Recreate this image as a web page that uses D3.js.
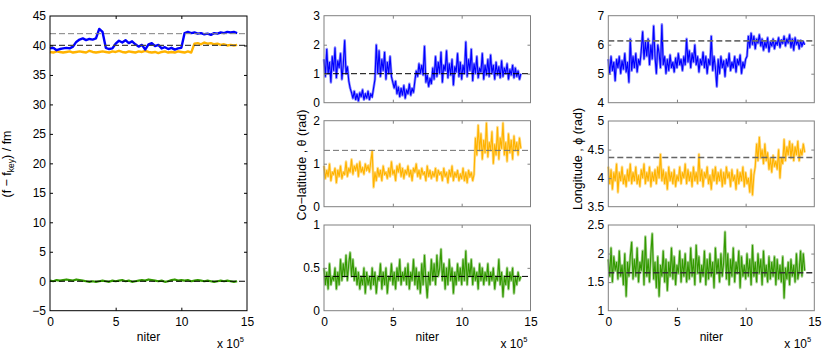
<!DOCTYPE html>
<html>
<head>
<meta charset="utf-8">
<script src="https://cdn.jsdelivr.net/npm/d3@7"></script>
<style>
body { margin: 0; background: #fff; }
text { font-family: "Liberation Sans", Arial, sans-serif; font-size: 12px; fill: #000; }
text.ylab { font-size: 12.5px; }
</style>
</head>
<body>
<div id="chart"></div>
<script>
var w = 830, h = 357; // size of the picture

// stored samples: one every stepF (left panel) / stepA (angle panels) iterations
var stepF = 25000;
var stepA = 10000;

var xTicks = [0, 5e5, 10e5, 15e5];
var xTickLabels = ["0", "5", "10", "15"];

// (f - f_key) / fm
var fBlue = [39.5,39.6,39.2,39.4,39.5,39.6,39.5,39.8,40.6,41.0,41.2,40.9,41.1,41.0,41.2,42.8,
  42.3,39.6,39.4,39.5,40.3,40.8,40.5,40.9,40.4,40.7,40.2,39.8,40.1,39.3,40.2,40.4,
  39.9,40.1,39.5,39.7,39.4,39.6,39.3,39.5,39.6,42.1,42.3,42.1,42.2,42.0,42.1,41.9,
  42.0,41.8,42.1,42.0,42.2,42.1,42.3,42.2,42.3,42.1];
var fOrange = [38.9,38.8,39.0,38.9,38.8,38.9,39.0,38.8,38.9,39.0,38.9,38.8,39.1,38.9,38.8,38.9,
  39.0,38.9,38.8,39.0,38.9,39.1,38.9,38.8,39.0,38.9,38.8,39.0,38.9,39.1,38.9,38.8,
  38.9,38.7,38.9,39.0,38.8,38.9,38.8,39.0,38.9,38.8,39.0,38.8,40.3,40.4,40.2,40.5,
  40.3,40.4,40.2,40.3,40.1,40.2,40.0,40.1,40.0,40.1];
var fGreen = [0.1,0.0,0.2,0.1,0.2,0.3,0.2,0.1,0.3,0.2, 0.1,0.0,-0.1,0.0,-0.1,0.0,0.1,0.0,-0.1,0.1,
  0.0,0.1,0.2,0.0,0.1,-0.1,0.0,0.1,0.2,0.1, 0.3,0.2,0.1,0.0,0.1,-0.1,0.0,0.2,0.3,0.1,
  0.2,0.1,0.2,0.0,0.1,0.2,0.1,0.0,0.1,0.0, -0.1,0.0,0.1,0.0,0.1,0.0,-0.1,0.0];
var fRef = [42, 40, 0];

// co-latitude theta (rad)
var thetaBlue = [1.5,0.9,1.85,1.0,1.4,0.7,1.6,1.1,1.9,0.85,1.45,1.2,1.7,0.8,1.3,
  2.15,1.0,1.25,0.75,0.5,
  0.35,0.15,0.4,0.1,0.3,0.05,0.35,0.2,0.45,0.1,0.3,0.15,0.4,0.1,0.3,0.2,0.5,
  0.8,
  2.0,1.0,1.8,0.9,1.5,1.1,1.75,0.8,1.4,1.0,1.6,0.9,
  0.7,0.5,0.75,0.3,0.55,0.2,0.5,0.25,0.6,0.15,0.45,0.3,0.65,0.25,0.5,0.35,0.75,
  1.1,0.9,1.35,1.0,1.3,0.95,
  1.95,
  0.7,0.95,0.55,0.85,0.65,
  1.2,0.8,1.6,0.9,1.4,1.0,1.75,0.7,1.3,1.1,1.8,0.85,1.35,0.95,1.5,0.6,1.25,1.05,1.7,0.9,
  1.4,0.8,1.3,1.0,2.1,0.9,1.5,1.1,1.85,0.75,1.35,1.0,1.6,0.85,1.2,1.05,1.7,0.8,1.3,0.95,
  1.5,0.9,1.65,1.0,1.3,0.8,1.4,0.95,1.25,0.85,1.45,0.9,1.2,1.0,1.35,0.8,1.15,0.95,1.3,0.85,
  1.2,0.9,1.1,0.8,1.0];
var thetaOrange = [0.95,0.65,0.85,0.7,1.0,0.6,0.8,0.75,0.9,0.55,0.85,0.7,0.95,0.65,0.8,0.75,1.05,0.7,0.9,0.8,
  1.1,0.75,0.95,0.85,1.0,0.7,1.05,0.8,0.9,0.75,1.0,0.85,0.95,0.8,1.05,1.3,0.45,0.8,0.6,0.9,
  0.7,0.85,0.6,0.95,0.75,0.8,0.65,0.9,0.7,1.05,0.75,0.85,0.6,0.95,0.8,1.0,0.7,0.9,0.65,0.85,
  0.75,0.95,0.7,0.85,0.6,0.9,0.8,1.0,0.7,0.85,0.65,0.9,0.75,0.8,0.6,0.95,0.7,0.85,0.65,0.8,
  0.7,0.9,0.6,0.85,0.75,0.8,0.6,0.9,0.7,0.8,0.55,0.85,0.7,0.95,0.6,0.8,0.7,0.85,0.6,0.75,
  0.65,0.9,0.6,0.8,0.55,0.85,0.7,0.8,0.6,0.75,
  1.6,1.2,1.9,1.3,1.7,1.1,1.55,1.25,1.95,1.15,1.5,1.3,1.75,1.0,1.45,1.2,1.85,1.1,1.6,1.35,
  1.95,1.2,1.5,1.05,1.7,1.25,1.55,1.1,1.65,1.3,1.5,1.2,1.6,1.35];
var thetaGreen = [0.5,0.3,0.45,0.25,0.55,0.3,0.4,0.35,0.5,0.25,0.45,0.3,0.6,0.35,0.55,0.4,0.65,0.35,0.55,0.68,
  0.4,0.6,0.35,0.5,0.3,0.45,0.25,0.4,0.3,0.5,0.2,0.45,0.3,0.4,0.25,0.5,0.3,0.45,0.2,0.4,
  0.35,0.55,0.25,0.45,0.3,0.5,0.2,0.4,0.35,0.55,0.3,0.45,0.25,0.5,0.35,0.6,0.3,0.45,0.35,0.5,
  0.3,0.55,0.25,0.45,0.35,0.6,0.3,0.5,0.25,0.45,0.2,0.55,0.3,0.65,0.35,0.15,0.45,0.3,0.6,0.35,
  0.55,0.3,0.65,0.4,0.5,0.72,0.35,0.55,0.25,0.5,0.3,0.6,0.35,0.5,0.2,0.45,0.3,0.55,0.35,0.5,
  0.3,0.6,0.35,0.7,0.3,0.55,0.4,0.6,0.3,0.5,0.35,0.45,0.25,0.55,0.35,0.5,0.3,0.45,0.35,0.55,
  0.3,0.45,0.35,0.5,0.25,0.4,0.35,0.6,0.3,0.45,0.16,0.4,0.3,0.5,0.25,0.45,0.35,0.5,0.2,0.4,
  0.3,0.45,0.35,0.4];
var thetaRef = [1.0, 1.31, 0.4];

// longitude phi (rad)
var phiBlue = [5.5,5.0,5.6,5.1,5.4,4.75,5.5,5.2,5.6,5.0,5.45,5.15,5.7,5.05,5.4,4.7,6.2,5.1,5.6,5.2,
  5.7,5.05,5.5,5.3,5.8,6.45,5.5,6.1,5.6,6.2,5.3,6.0,5.5,6.65,5.6,5.0,6.0,5.7,5.2,6.7,
  5.3,5.6,5.0,5.5,5.1,5.65,5.2,5.4,5.05,5.55,5.2,5.7,5.3,5.5,5.1,5.6,5.3,6.2,5.4,5.8,
  5.2,5.7,5.4,6.0,5.3,5.6,5.05,5.5,5.3,5.75,5.2,5.6,5.0,5.5,5.3,6.3,5.1,5.6,5.2,4.55,
  5.5,5.0,5.6,5.2,5.45,4.9,5.5,5.25,5.7,5.1,5.4,5.2,5.6,5.05,5.5,5.3,5.65,5.0,5.4,5.2,
  5.5,5.6,6.3,5.9,6.4,6.0,6.3,5.85,6.2,6.05,6.35,5.95,6.2,5.8,6.1,5.9,6.25,5.75,6.1,5.95,
  6.2,5.85,6.1,6.0,6.25,5.9,6.15,6.05,6.3,5.95,6.2,6.05,6.35,5.9,6.2,5.8,6.25,6.0,6.15,5.85,
  6.15,5.95,6.1,6.0];
var phiOrange = [4.2,3.9,4.15,3.8,4.1,3.95,4.25,3.75,4.1,3.95,4.2,3.9,4.05,3.85,4.15,3.95,4.25,3.9,4.1,3.95,
  4.2,3.9,4.05,3.85,4.15,4.0,4.25,3.9,4.1,3.95,4.2,3.85,4.1,3.95,4.15,3.9,4.2,4.0,4.42,3.95,
  4.15,3.9,4.1,3.8,4.2,3.95,4.1,3.9,4.15,3.85,4.05,3.95,4.2,3.9,4.1,4.0,4.25,3.9,4.15,3.95,
  4.1,3.85,4.2,3.95,4.1,3.9,4.42,3.95,4.15,3.85,4.1,4.0,4.2,3.9,4.05,3.8,4.15,3.95,4.2,3.9,
  4.1,3.95,4.15,3.85,4.1,3.9,4.2,4.0,4.1,3.85,4.15,3.95,4.05,3.8,4.15,3.9,4.1,3.95,4.2,3.85,
  4.1,3.9,4.0,3.75,4.15,3.7,4.05,4.2,
  4.6,4.3,4.72,4.35,4.5,4.25,4.6,4.3,4.45,4.15,4.35,4.1,4.4,4.2,4.3,4.15,4.5,4.0,4.35,4.25,
  4.68,4.3,4.55,4.4,4.65,4.35,4.6,4.3,4.55,4.4,4.65,4.3,4.5,4.4,4.6,4.45];
var phiGreen = [1.9,1.6,2.1,1.5,1.95,1.7,1.85,1.55,2.05,1.6,1.8,1.45,2.0,1.25,1.85,1.6,1.95,2.2,1.55,1.9,
  1.6,2.1,1.5,1.85,1.7,2.05,1.45,2.3,1.6,1.9,1.5,2.0,2.35,1.55,1.85,1.4,1.95,1.25,1.8,1.6,
  2.05,1.5,1.9,1.35,1.85,1.6,2.1,1.55,1.95,1.45,1.8,1.65,2.05,1.5,1.9,1.6,2.0,1.5,1.85,1.55,
  2.1,1.6,1.9,1.45,2.15,1.65,1.95,1.5,1.8,1.6,2.05,1.45,1.9,1.55,2.0,1.6,1.85,1.4,2.1,1.65,
  1.9,1.5,2.0,1.6,1.85,2.38,1.55,2.0,1.45,1.9,1.6,2.1,1.5,1.85,1.65,2.05,1.4,1.95,1.6,1.8,
  1.55,2.0,1.6,1.9,1.45,2.15,1.6,1.85,1.5,2.0,1.65,1.9,1.45,2.05,1.6,1.8,1.5,1.95,1.55,1.85,
  1.6,1.95,1.45,1.9,1.55,1.8,1.5,1.95,1.22,1.75,1.55,1.85,1.45,1.9,1.6,1.8,1.5,2.0,1.55,1.7,
  2.05,1.6,2.0,1.7];
var phiRef = [6.13, 4.36, 1.665];

var blue = "#0000ff", orange = "#ffb300", green = "#339900";

var svg = d3.select("#chart")
    .append("svg")
    .attr("width", w)
    .attr("height", h);

// panel layout (pixel boxes), data hooked in from the arrays above
var panels = [
  {x0: 50, x1: 247, y0: 16, y1: 310.7, domain: [-5, 45], ticks: d3.range(-5, 46, 5), box: "#000", bottom: true,
   series: [{v: fOrange, step: stepF, c: orange, sw: 2.4},
            {v: fBlue, step: stepF, c: blue, sw: 2.4},
            {v: fGreen, step: stepF, c: green, sw: 2.2}],
   refs: [{y: fRef[0], c: "#808080", sw: 1}, {y: fRef[1], c: "#444", sw: 1.3}, {y: fRef[2], c: "#000", sw: 1.2}]},

  {x0: 324, x1: 530.5, y0: 15.7, y1: 102.7, domain: [0, 3], ticks: [0, 1, 2, 3], box: "#808080",
   series: [{v: thetaBlue, step: stepA, c: blue, thin: true}], refs: [{y: thetaRef[0], c: "#000", sw: 1}]},
  {x0: 324, x1: 530.5, y0: 120.7, y1: 206.7, domain: [0, 2], ticks: [0, 1, 2], box: "#808080",
   series: [{v: thetaOrange, step: stepA, c: orange, thin: true}], refs: [{y: thetaRef[1], c: "#707070", sw: 1}]},
  {x0: 324, x1: 530.5, y0: 225, y1: 310.7, domain: [0, 1], ticks: [0, 0.5, 1], box: "#808080", bottom: true,
   series: [{v: thetaGreen, step: stepA, c: green, thin: true}], refs: [{y: thetaRef[2], c: "#000", sw: 1}]},

  {x0: 608.3, x1: 814.3, y0: 15.7, y1: 102.7, domain: [4, 7], ticks: [4, 5, 6, 7], box: "#808080",
   series: [{v: phiBlue, step: stepA, c: blue, thin: true}], refs: [{y: phiRef[0], c: "#6e6e6e", sw: 1.8}]},
  {x0: 608.3, x1: 814.3, y0: 121, y1: 206.7, domain: [3.5, 5], ticks: [3.5, 4, 4.5, 5], box: "#808080",
   series: [{v: phiOrange, step: stepA, c: orange, thin: true}], refs: [{y: phiRef[1], c: "#666", sw: 1.6}]},
  {x0: 608.3, x1: 814.3, y0: 225, y1: 310.7, domain: [1, 2.5], ticks: [1, 1.5, 2, 2.5], box: "#808080", bottom: true,
   series: [{v: phiGreen, step: stepA, c: green, thin: true}], refs: [{y: phiRef[2], c: "#333", sw: 1.6}]}
];

panels.forEach(drawPanel);

function styleAxis(g, color){
  g.attr("font-size", null).attr("font-family", null);
  g.select(".domain").remove();
  g.selectAll(".tick line").attr("stroke", color);
}

function drawPanel(p){
  var x = d3.scaleLinear().domain([0, 15e5]).range([p.x0, p.x1]);
  var y = d3.scaleLinear().domain(p.domain).range([p.y1, p.y0]);
  var g = svg.append("g");

  p.series.forEach(function(s){
    var line = d3.line()
        .x(function(d, i) { return x(i * s.step); })
        .y(function(d) { return y(d); });
    if (s.thin) {
      // light halo, then the trace itself
      g.append("path").datum(s.v).attr("d", line)
        .attr("fill", "none").attr("stroke", s.c).attr("stroke-opacity", 0.45)
        .attr("stroke-width", 2.6).attr("stroke-linejoin", "round");
      g.append("path").datum(s.v).attr("d", line)
        .attr("fill", "none").attr("stroke", s.c).attr("stroke-width", 1.1);
    } else {
      g.append("path").datum(s.v).attr("d", line)
        .attr("fill", "none").attr("stroke", s.c).attr("stroke-width", s.sw)
        .attr("stroke-linejoin", "round");
    }
  });

  // reference (true) values
  g.selectAll("line.ref")
    .data(p.refs)
    .enter()
    .append("line")
    .attr("class", "ref")
    .attr("x1", x(0)).attr("x2", x(15e5))
    .attr("y1", function(d) { return y(d.y); })
    .attr("y2", function(d) { return y(d.y); })
    .attr("stroke", function(d) { return d.c; })
    .attr("stroke-width", function(d) { return d.sw; })
    .attr("stroke-dasharray", "6,3");

  // box with inward ticks on all four sides
  g.append("rect")
    .attr("x", p.x0).attr("y", p.y0)
    .attr("width", p.x1 - p.x0).attr("height", p.y1 - p.y0)
    .attr("fill", "none").attr("stroke", p.box).attr("stroke-width", 1);

  g.append("g").attr("transform", "translate(" + p.x0 + ",0)")
    .call(d3.axisLeft(y).tickValues(p.ticks).tickFormat(d3.format("~g"))
      .tickSizeInner(-3).tickSizeOuter(0).tickPadding(4))
    .call(styleAxis, p.box);
  g.append("g").attr("transform", "translate(" + p.x1 + ",0)")
    .call(d3.axisRight(y).tickValues(p.ticks).tickFormat("").tickSizeInner(-3).tickSizeOuter(0))
    .call(styleAxis, p.box);
  g.append("g").attr("transform", "translate(0," + p.y0 + ")")
    .call(d3.axisTop(x).tickValues(xTicks).tickFormat("").tickSizeInner(-3).tickSizeOuter(0))
    .call(styleAxis, p.box);
  g.append("g").attr("transform", "translate(0," + p.y1 + ")")
    .call(d3.axisBottom(x).tickValues(xTicks)
      .tickFormat(p.bottom ? function(d, i) { return xTickLabels[i]; } : "")
      .tickSizeInner(-3).tickSizeOuter(0).tickPadding(7))
    .call(styleAxis, p.box);

  // remove ticks sitting on the box corners
  g.selectAll(".tick line").filter(function(d) {
    return d === p.domain[0] || d === p.domain[1] || d === 0 || d === 15e5;
  }).remove();

  if (p.bottom) {
    g.append("text")
      .attr("x", (p.x0 + p.x1) / 2).attr("y", 341)
      .attr("text-anchor", "middle")
      .text("niter");
    var e = g.append("text").attr("x", p.x1 - 30).attr("y", 347.5).text("x 10");
    e.append("tspan").attr("dy", -6).attr("font-size", "7.5px").text("5");
  }
}

// y labels
var yl = svg.append("text")
    .attr("class", "ylab")
    .attr("transform", "translate(11,164) rotate(-90)")
    .attr("text-anchor", "middle")
    .text("(f \u2212 f");
yl.append("tspan").attr("dy", 3).attr("font-size", "8.5px").text("key");
yl.append("tspan").attr("dy", -3).text(") / fm");

svg.append("text")
    .attr("class", "ylab")
    .attr("transform", "translate(306,165) rotate(-90)")
    .attr("text-anchor", "middle")
    .text("Co\u2212latitude , \u03b8 (rad)");

svg.append("text")
    .attr("class", "ylab")
    .attr("transform", "translate(582,159) rotate(-90)")
    .attr("text-anchor", "middle")
    .text("Longitude , \u03d5 (rad)");
</script>
</body>
</html>
